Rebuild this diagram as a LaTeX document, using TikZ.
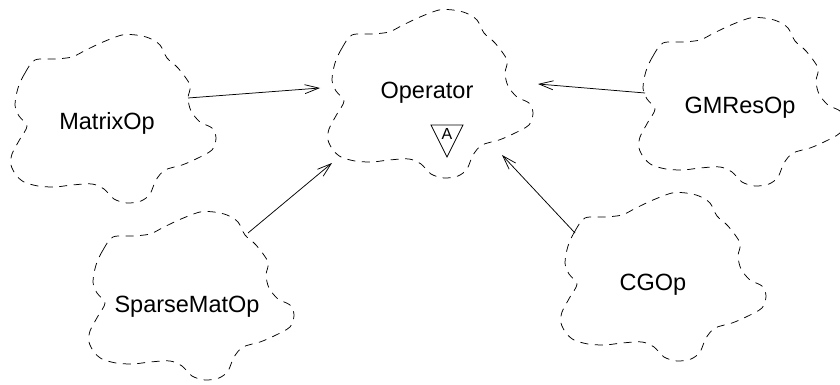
\documentclass[tikz,border=0pt]{standalone}
\usepackage{fontspec}
\setmainfont{Liberation Sans}
\usetikzlibrary{arrows.meta}
\tikzset{
  cloudline/.style={draw=black, line width=0.75pt, dash pattern=on 8pt off 6.5pt, line join=round},
  classname/.style={font=\fontsize{23.5}{26}\selectfont, inner sep=0pt},
  inherits/.style={draw=black, line width=0.75pt, -{Straight Barb[length=14pt, width=9pt, line width=0.75pt]}},
  abstractmark/.style={draw=black, line width=0.8pt, line join=miter},
}
% Booch class cloud, drawn from the top-left corner of its bounding box
\newcommand{\boochcloud}[2]{%
  \draw[cloudline, shift={(#1,#2)}] plot[smooth cycle, tension=0.5] coordinates {
    (25,25) (15,38) (8,53) (5,70) (9,81) (17,91) (10,104) (2,119) (1,130)
    (6,140) (14,147) (28,151) (45,152) (62,150) (82,149) (94,154) (104,164)
    (117,168) (131,166) (140,159) (146,145) (155,135) (172,130) (186,124)
    (202,115) (206,103) (202,93) (190,87) (181,76) (178,63) (180,50) (168,33)
    (157,23) (150,10) (139,3) (126,0) (112,0) (93,7) (76,15) (62,22) (45,24)};
}
\begin{document}
\begin{tikzpicture}[x=1pt, y=-1pt]
  \useasboundingbox (0,0) rectangle (840,385);

  % class clouds
  \boochcloud{327}{10}
  \boochcloud{10}{35}
  \boochcloud{638}{18}
  \boochcloud{88}{212}
  \boochcloud{560}{193}

  % class names
  \node[classname] (op) at (427,93) {Operator};
  \node[classname] (matrix) at (107,123) {MatrixOp};
  \node[classname] (gmres) at (740,108) {GMResOp};
  \node[classname] (sparse) at (187,307) {SparseMatOp};
  \node[classname] (cg) at (653,285) {CGOp};

  % abstract adornment
  \draw[abstractmark] (431,125) -- (463,125) -- (447,157) -- cycle;
  \node[font=\fontsize{16}{18}\selectfont, inner sep=0pt] (abs) at (447,134) {A};

  % connector end points on the cloud outlines
  \coordinate (matrixTail) at (188,98);
  \coordinate (matrixHead) at (320,88);
  \coordinate (gmresTail) at (645,93);
  \coordinate (gmresHead) at (538,84);
  \coordinate (sparseTail) at (248,233);
  \coordinate (sparseHead) at (332,163);
  \coordinate (cgTail) at (575,233);
  \coordinate (cgHead) at (502,155);

  % inheritance relations
  \draw[inherits] (matrixTail) -- (matrixHead);
  \draw[inherits] (gmresTail) -- (gmresHead);
  \draw[inherits] (sparseTail) -- (sparseHead);
  \draw[inherits] (cgTail) -- (cgHead);
\end{tikzpicture}
\end{document}
